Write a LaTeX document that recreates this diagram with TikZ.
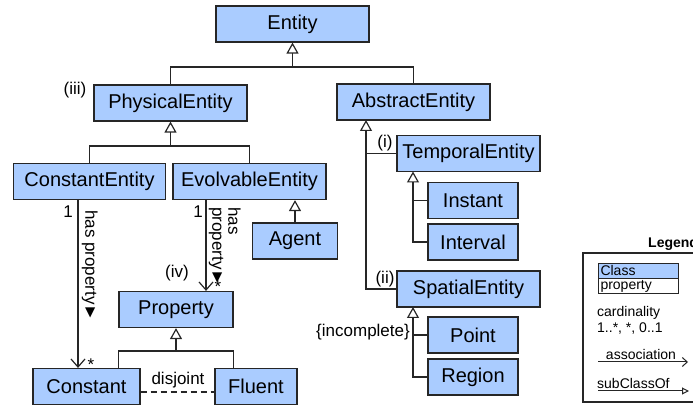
\documentclass[tikz,border=0pt]{standalone}
\usepackage{fontspec}
\setmainfont{Liberation Sans}
\usetikzlibrary{arrows.meta}
\definecolor{classblue}{RGB}{170,204,255}
\begin{document}
\begin{tikzpicture}[x=1pt,y=1pt,
  class/.style={draw=black!85,line width=1.2pt,fill=classblue,minimum height=36pt,inner sep=0pt,font=\fontsize{20}{24}\selectfont},
  lbl/.style={inner sep=0pt,font=\fontsize{17}{16}\selectfont},
  small/.style={inner sep=0pt,font=\fontsize{14}{16}\selectfont},
  link/.style={line width=1.2pt,draw=black!85},
  isa/.style={link,-{Triangle[open,length=11pt,width=12pt]}},
  assoc/.style={link,-{Straight Barb[length=8pt,width=14pt]}}]
\useasboundingbox (0,0) rectangle (693,406);
\clip (0,0) rectangle (693,406);
\node[class,minimum width=153pt] (Entity) at (292.5,382) {Entity};
\node[class,minimum width=153pt] (PhysicalEntity) at (170.5,303) {PhysicalEntity};
\node[class,minimum width=153pt] (AbstractEntity) at (413.5,304) {AbstractEntity};
\node[class,minimum width=152pt] (ConstantEntity) at (89.5,224.5) {ConstantEntity};
\node[class,minimum width=153pt] (EvolvableEntity) at (249.5,224.5) {EvolvableEntity};
\node[class,minimum width=85pt] (Agent) at (295,165) {Agent};
\node[class,minimum width=143pt] (TemporalEntity) at (468.5,252.5) {TemporalEntity};
\node[class,minimum width=90pt] (Instant) at (473,205.5) {Instant};
\node[class,minimum width=90pt] (Interval) at (473,164) {Interval};
\node[class,minimum width=143pt] (SpatialEntity) at (468.5,117) {SpatialEntity};
\node[class,minimum width=90pt] (Point) at (473,71) {Point};
\node[class,minimum width=90pt] (Region) at (473,29) {Region};
\node[class,minimum width=114pt] (Property) at (176,96.5) {Property};
\node[class,minimum width=107pt] (Constant) at (86.5,19.5) {Constant};
\node[class,minimum width=82pt] (Fluent) at (256,19.5) {Fluent};
% subclass trees
\coordinate (e1) at (292.5,339);
\draw[isa] (e1) -- (Entity);
\draw[link] (PhysicalEntity) |- (e1) -| (AbstractEntity);
\coordinate (p1) at (170.5,260);
\draw[isa] (p1) -- (PhysicalEntity);
\draw[link] (ConstantEntity) |- (p1) -| (EvolvableEntity);
\draw[isa] (Agent) -- (Agent |- EvolvableEntity.south);
\coordinate (a1) at (366,286);
\draw[isa] (SpatialEntity) -| (a1);
\draw[link] (TemporalEntity) -- (TemporalEntity -| a1);
\coordinate (t1) at (413,234.5);
\draw[isa] (Interval) -| (t1);
\draw[link] (Instant) -- (Instant -| t1);
\coordinate (s1) at (413,99);
\draw[isa] (Region) -| (s1);
\draw[link] (Point) -- (Point -| s1);
\coordinate (q1) at (176,55);
\draw[isa] (q1) -- (Property);
\draw[link] (Constant.north -| Property.west) |- (q1) -| (Fluent.north -| Property.east);
\draw[link,dash pattern=on 6pt off 4pt] ([yshift=-5.5pt]Constant.east) -- ([yshift=-5.5pt]Fluent.west);
% associations
\draw[assoc] ([xshift=-11.5pt]ConstantEntity.south) -- ([xshift=-8.5pt]Constant.north);
\draw[assoc] ([xshift=-43.5pt]EvolvableEntity.south) -- ([xshift=30pt]Property.north);
\node[lbl] (one1) at (68,194) {1};
\node[lbl] (many1) at (91,41) {*};
\node[lbl,rotate=-90,anchor=north west] (hasprop1) at (98,196) {has property►};
\node[lbl] (one2) at (198,194) {1};
\node[lbl] (many2) at (218,119) {*};
\node[lbl,rotate=-90,anchor=north west,align=left] (hasprop2) at (241,199) {has\\property►};
% labels
\node[lbl] (iii) at (75,316) {(iii)};
\node[lbl] (i) at (385,263) {(i)};
\node[lbl] (ii) at (385,127) {(ii)};
\node[lbl] (iv) at (177,133) {(iv)};
\node[lbl] (disjoint) at (178,26) {disjoint};
\node[lbl,anchor=east] (incomplete) at (410,74) {\{incomplete\}};
% legend
\node[small,font=\bfseries\fontsize{14}{16}\selectfont,anchor=west] (legend) at (648,162) {Legend};
\node[draw=black!85,line width=1.2pt,minimum width=147pt,minimum height=149pt] (legendbox) at (656.5,78.5) {};
\node[small,draw=black!85,line width=1pt,fill=classblue,anchor=north west,minimum width=80pt,minimum height=15pt,text width=76pt,inner xsep=2pt] (lclass) at (598,143) {Class};
\node[small,draw=black!85,line width=1pt,anchor=north west,minimum width=80pt,minimum height=15pt,text width=76pt,inner xsep=2pt] (lprop) at (598,128) {property};
\node[small,anchor=west,align=left] (card) at (597,86) {cardinality\\1..*, *, 0..1};
\node[small] (lassoc) at (641,52) {association};
\coordinate (la1) at (598,44);
\coordinate (la2) at (688,44);
\draw[link,line width=1pt,-{Straight Barb[length=5pt,width=9pt]}] (la1) -- (la2);
\node[small,anchor=west] (lsub) at (597,23) {subClassOf};
\coordinate (ls1) at (598,15);
\coordinate (ls2) at (689,15);
\draw[link,line width=1pt,-{Triangle[open,length=7pt,width=7pt]}] (ls1) -- (ls2);
\end{tikzpicture}
\end{document}
